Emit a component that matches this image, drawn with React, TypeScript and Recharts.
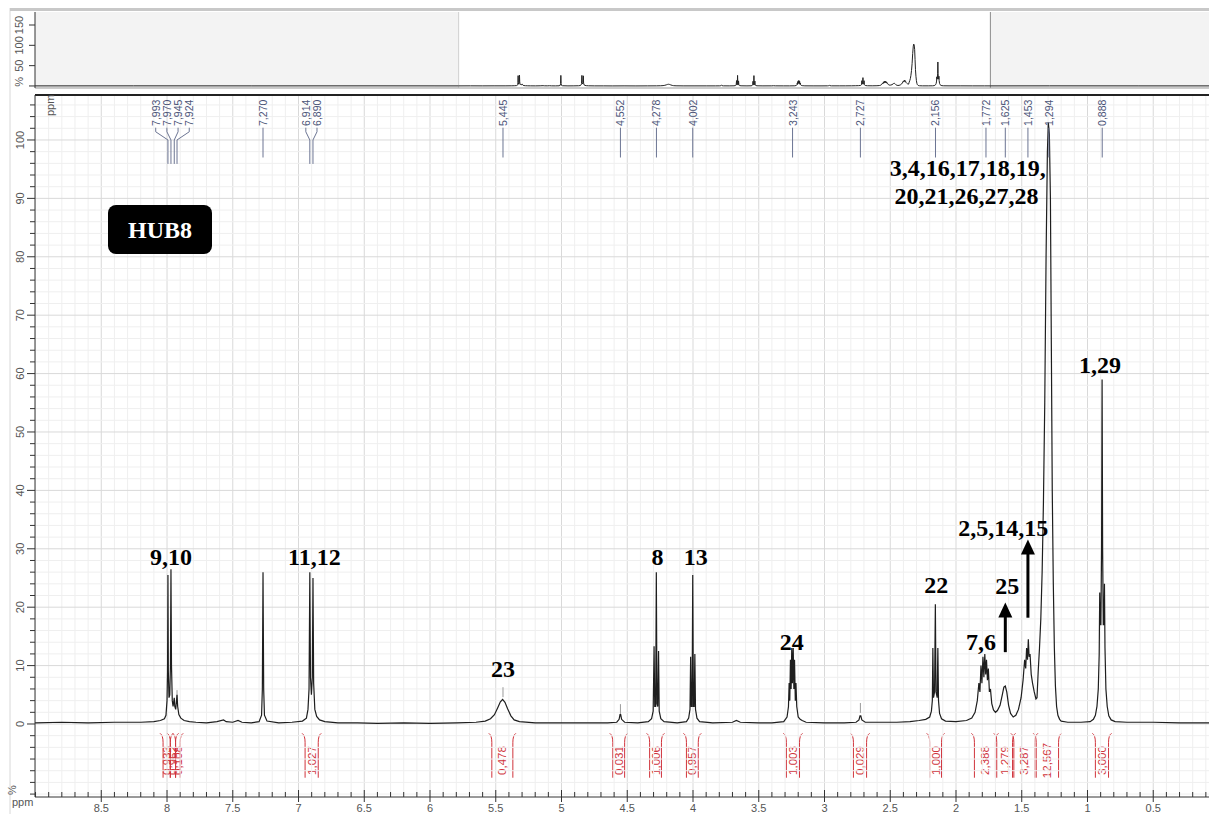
import React from 'react';
import { ComposedChart, Line, XAxis, YAxis, ReferenceLine, ReferenceDot, ReferenceArea } from 'recharts';

const W = 1209;
const H = 814;

// 1H trace as [ppm, % intensity], low field first
const LOW_FIELD_BASE: [number, number][] = [
  [16.2, 0.2], [14.5, 0.3], [12.5, 0.2], [10.5, 0.3], [9.4, 0.2], [9.0, 0.2], [8.8, 0.3], [8.6, 0.2],
  [8.4, 0.3], [8.2, 0.3], [8.1, 0.4], [8.05, 0.6], [8.02, 0.9],
];

const AROMATIC: [number, number][] = [
  [8.008, 1.5], [8.0, 4], [7.996, 9], [7.993, 25.5], [7.99, 9], [7.985, 4.5], [7.979, 5], [7.974, 10],
  [7.97, 26.5], [7.966, 10], [7.96, 4], [7.954, 3], [7.948, 4], [7.945, 4.5], [7.941, 3], [7.934, 2.5],
  [7.928, 4], [7.924, 5], [7.919, 3], [7.91, 1.6], [7.895, 1], [7.87, 0.6], [7.83, 0.4], [7.78, 0.3],
  [7.7, 0.2], [7.62, 0.4], [7.57, 0.7], [7.55, 0.4], [7.5, 0.3], [7.46, 0.6], [7.43, 0.3], [7.36, 0.2],
  [7.3, 0.4], [7.281, 1.5], [7.275, 6], [7.27, 26], [7.265, 6], [7.259, 1.5], [7.24, 0.5], [7.15, 0.2],
  [7.05, 0.3], [6.97, 0.5], [6.94, 1], [6.928, 2.5], [6.92, 6], [6.914, 26], [6.909, 8], [6.902, 5],
  [6.895, 8], [6.89, 25], [6.885, 7], [6.876, 2.5], [6.862, 1.3], [6.84, 0.7], [6.8, 0.4], [6.7, 0.2],
  [6.55, 0.2], [6.4, 0.1], [6.2, 0.2], [6.0, 0.1], [5.8, 0.2], [5.65, 0.3],
];

const MID_FIELD: [number, number][] = [
  [5.58, 0.5], [5.54, 0.9], [5.51, 1.6], [5.485, 2.8], [5.465, 3.8], [5.448, 4.2], [5.43, 3.7], [5.41, 2.6],
  [5.385, 1.4], [5.36, 0.7], [5.32, 0.4], [5.2, 0.2], [5.0, 0.2], [4.8, 0.2], [4.65, 0.2], [4.58, 0.3],
  [4.562, 0.8], [4.555, 1.6], [4.55, 1.6], [4.543, 0.8], [4.52, 0.3], [4.42, 0.2], [4.34, 0.4], [4.315, 0.9],
  [4.303, 2.2], [4.296, 13.3], [4.291, 3], [4.284, 3], [4.279, 26], [4.274, 3.5], [4.268, 3], [4.262, 12.5],
  [4.257, 2.2], [4.245, 0.9], [4.22, 0.4], [4.12, 0.2], [4.05, 0.4], [4.033, 1], [4.023, 2.5], [4.018, 11.5],
  [4.013, 3], [4.007, 3], [4.002, 25.5], [3.997, 3], [3.991, 3], [3.986, 12], [3.981, 2.5], [3.97, 1],
  [3.95, 0.4], [3.85, 0.2], [3.7, 0.3], [3.67, 0.6], [3.64, 0.3], [3.5, 0.2], [3.4, 0.2], [3.31, 0.4],
  [3.285, 1.2], [3.274, 3], [3.269, 7], [3.264, 4], [3.259, 11], [3.254, 6], [3.249, 13], [3.244, 7],
  [3.238, 13], [3.233, 6], [3.228, 11], [3.222, 4], [3.217, 7], [3.211, 3], [3.2, 1.2], [3.185, 0.8],
  [3.17, 0.6], [3.14, 0.3], [3.0, 0.2], [2.85, 0.2], [2.76, 0.3], [2.738, 0.7], [2.73, 1.4], [2.724, 1.4],
  [2.716, 0.7], [2.69, 0.3], [2.55, 0.3], [2.45, 0.3], [2.35, 0.4], [2.28, 0.6], [2.23, 0.8], [2.2, 1.2],
];

const ALIPHATIC: [number, number][] = [
  [2.187, 2.2], [2.18, 4], [2.176, 13], [2.171, 4.5], [2.163, 5.5], [2.157, 20.5], [2.152, 5.5], [2.143, 4.5],
  [2.138, 13], [2.133, 4], [2.125, 1.8], [2.11, 0.9], [2.08, 0.5], [2.0, 0.4], [1.92, 0.6], [1.88, 1],
  [1.855, 2], [1.838, 4], [1.826, 7], [1.818, 5.5], [1.81, 10], [1.803, 7], [1.795, 11.5], [1.788, 8],
  [1.781, 12], [1.774, 8.5], [1.768, 11], [1.761, 7.5], [1.754, 9.5], [1.746, 5.5], [1.738, 6], [1.728, 3.5],
  [1.715, 2.4], [1.7, 2], [1.685, 2.3], [1.665, 3.2], [1.648, 5], [1.636, 6.3], [1.625, 6.5], [1.614, 5.5],
  [1.6, 3.2], [1.585, 1.8], [1.565, 1.2], [1.545, 1.5], [1.525, 2.5], [1.505, 4.5], [1.49, 7.5], [1.478, 11],
  [1.47, 9.5], [1.463, 13], [1.456, 11], [1.45, 14.5], [1.444, 11.5], [1.437, 12], [1.428, 8.5], [1.418, 7],
  [1.405, 5.5], [1.392, 4.3], [1.384, 4.5], [1.375, 9], [1.365, 13], [1.355, 18], [1.345, 26], [1.335, 38],
  [1.325, 55], [1.315, 80], [1.305, 98], [1.298, 103], [1.29, 101], [1.282, 90], [1.275, 65], [1.268, 40],
  [1.26, 24], [1.252, 13], [1.244, 6.5], [1.235, 3], [1.225, 1.5], [1.212, 0.8], [1.2, 0.5], [1.15, 0.3],
  [1.05, 0.3], [0.98, 0.4], [0.955, 0.8], [0.94, 1.5], [0.928, 3], [0.918, 6], [0.911, 12], [0.907, 22.5],
  [0.903, 17], [0.898, 17], [0.893, 30], [0.889, 59], [0.885, 30], [0.88, 17], [0.875, 17], [0.871, 24],
  [0.867, 13], [0.86, 6], [0.85, 3], [0.838, 1.4], [0.82, 0.7], [0.79, 0.4], [0.7, 0.3], [0.5, 0.3],
  [0.3, 0.2], [0.1, 0.2], [0.0, 0.2], [-1.0, 0.3], [-2.5, 0.2], [-3.7, 0.2],
];

const SPECTRUM = [...LOW_FIELD_BASE, ...AROMATIC, ...MID_FIELD, ...ALIPHATIC].map(([ppm, y]) => ({ ppm, y }));

// peak picking list, grouped as the leader lines fan out
const PICK_GROUPS: number[][] = [
  [7.993, 7.970, 7.945, 7.924], [7.270], [6.914, 6.890], [5.445], [4.552], [4.278], [4.002],
  [3.243], [2.727], [2.156], [1.772], [1.625], [1.453], [1.294], [0.888],
];

// integration regions (ppm from / to) and their values
const INT_FROM = [8.03, 7.975, 7.935, 6.95, 5.53, 4.61, 4.33, 4.05, 3.29, 2.78, 2.2, 1.86, 1.69, 1.56, 1.39, 0.94];
const INT_TO = [7.975, 7.935, 7.9, 6.85, 5.37, 4.52, 4.24, 3.96, 3.19, 2.68, 2.11, 1.7, 1.57, 1.4, 1.22, 0.84];
const INT_VALUE = ['0,933', '0,962', '0,108', '1,027', '0,478', '0,031', '1,006', '0,957', '1,003', '0,029',
  '1,000', '2,388', '1,279', '3,287', '12,567', '3,000'];

// proton assignments written on the spectrum
const ASSIGN_TEXT = ['9,10', '11,12', '23', '8', '13', '24', '22', '7,6', '25', '2,5,14,15',
  '3,4,16,17,18,19,', '20,21,26,27,28', '1,29'];
const ASSIGN_PPM = [7.97, 6.88, 5.445, 4.27, 3.98, 3.25, 2.15, 1.81, 1.61, 1.64, 1.91, 1.92, 0.905];
const ASSIGN_AT = [27.2, 27.2, 8.0, 27.2, 27.2, 12.7, 22.4, 12.7, 22.3, 32.2, 93.8, 89.0, 60.1];

// arrows: ppm, shaft bottom, arrow tip
const ARROW_PPM = [1.625, 1.453];
const ARROW_FROM = [12.3, 18.2];
const ARROW_TIP = [20.8, 31.6];

const PEAK_MARK_PPM = [7.924, 5.445, 4.552, 2.727];
const PEAK_MARK_FROM = [4.1, 4.6, 1.4, 1.9];
const PEAK_MARK_TO = [5.8, 6.3, 3.4, 3.6];

const X_MAJOR = [8.5, 8, 7.5, 7, 6.5, 6, 5.5, 5, 4.5, 4, 3.5, 3, 2.5, 2, 1.5, 1, 0.5];
const Y_MAJOR = [0, 10, 20, 30, 40, 50, 60, 70, 80, 90, 100];
const INSET_TICKS = [0, 50, 100, 150];

const X_MIN = 0.076;
const X_MAX = 9.004;
const Y_MIN = -12.5;
const Y_MAX = 107.7;

const X_MINOR: number[] = [];
for (let i = 1; i <= 90; i++) X_MINOR.push(i / 10);
const Y_MINOR: number[] = [];
for (let v = -12; v <= 106; v += 2) Y_MINOR.push(v);

const isMajorX = (v: number) => X_MAJOR.some(m => Math.abs(m - v) < 1e-6);
const isMajorY = (v: number) => Y_MAJOR.includes(v);

const SANS = 'Liberation Sans, Arial, sans-serif';
const SERIF = 'Liberation Serif, Times New Roman, serif';
const RED = '#d0343c';
const PICK_TEXT = '#4b5478';
const PICK_LINE = '#6c7593';
const SPREAD = 0.085;

function PpmTick({ x, y, payload }: any) {
  const v = payload.value;
  const major = isMajorX(v);
  return (
    <g>
      <line x1={x} x2={x} y1={y - (major ? 7 : 5)} y2={y + (major ? 5 : 0)} stroke="#333" />
      {major && (
        <text x={x} y={y + 15} textAnchor="middle" fontSize={11} fill="#555" fontFamily={SANS}>{String(v)}</text>
      )}
    </g>
  );
}

function PctTick({ x, y, payload }: any) {
  const v = payload.value;
  const major = isMajorY(v);
  return (
    <g>
      <line x1={x - (major ? 8 : 5)} x2={x} y1={y} y2={y} stroke="#333" />
      {major && (
        <text x={x - 15} y={y} transform={`rotate(-90 ${x - 15} ${y})`} textAnchor="middle"
          dominantBaseline="central" fontSize={11} fill="#555" fontFamily={SANS}>{String(v)}</text>
      )}
    </g>
  );
}

function InsetTick({ x, y, payload }: any) {
  const v = payload.value;
  const ty = v === 0 ? y - 4 : y;
  return (
    <g>
      <line x1={x - 6} x2={x} y1={y} y2={y} stroke="#333" />
      <text x={x - 16} y={ty} transform={`rotate(-90 ${x - 16} ${ty})`}
        textAnchor="middle" dominantBaseline="central" fontSize={11} fill="#555" fontFamily={SANS}>
        {v === 0 ? '%' : String(v)}
      </text>
    </g>
  );
}

function IntegralMark({ x, y, width, height, label }: any) {
  const l = x;
  const r = x + width;
  const top = y;
  const bot = y + height;
  const cx = x + width / 2;
  const cy = (top + bot) / 2 + 5;
  return (
    <g>
      <path d={`M${l - 3},${top} Q${l},${top + 2} ${l},${top + 9} L${l},${bot}`} stroke={RED} fill="none" />
      <path d={`M${r + 3},${top} Q${r},${top + 2} ${r},${top + 9} L${r},${bot}`} stroke={RED} fill="none" />
      <text x={cx} y={cy} transform={`rotate(-90 ${cx} ${cy})`} textAnchor="middle" dominantBaseline="central"
        fontSize={11.5} fill={RED} fontFamily={SANS}>{label}</text>
    </g>
  );
}

function pickLayers() {
  const out: React.ReactNode[] = [];
  PICK_GROUPS.forEach((group, gi) => {
    const n = group.length;
    const center = (group[0] + group[n - 1]) / 2;
    group.forEach((p, i) => {
      const lp = n === 1 ? p : center + ((n - 1) / 2 - i) * SPREAD;
      const txt = p.toFixed(3).replace('.', ',');
      out.push(
        <ReferenceDot key={`pt${gi}-${i}`} x={lp} y={102.4} r={0}
          shape={(s: any) => (
            <text x={s.cx} y={s.cy} transform={`rotate(-90 ${s.cx} ${s.cy})`} dominantBaseline="central"
              fontSize={10.5} fill={PICK_TEXT} fontFamily={SANS}>{txt}</text>
          )} />
      );
      if (n === 1) {
        out.push(<ReferenceLine key={`pl${gi}-${i}`} segment={[{ x: p, y: 102.1 }, { x: p, y: 97.0 }]} stroke={PICK_LINE} />);
      } else {
        out.push(<ReferenceLine key={`pa${gi}-${i}`} segment={[{ x: lp, y: 102.1 }, { x: lp, y: 101.4 }]} stroke={PICK_LINE} />);
        out.push(<ReferenceLine key={`pb${gi}-${i}`} segment={[{ x: lp, y: 101.4 }, { x: p, y: 100.0 }]} stroke={PICK_LINE} />);
        out.push(<ReferenceLine key={`pc${gi}-${i}`} segment={[{ x: p, y: 100.0 }, { x: p, y: 95.9 }]} stroke={PICK_LINE} />);
      }
    });
  });
  return out;
}

export default function App() {
  return (
    <div style={{ position: 'absolute', left: 0, top: 0, width: W, height: H, background: '#fff', overflow: 'hidden' }}>
      <div style={{ position: 'absolute', left: 0, top: 0 }}>
        <ComposedChart width={W} height={H} data={SPECTRUM} margin={{ top: 95, right: 0, bottom: 0, left: 0 }}>
          {X_MINOR.map(v => (
            <ReferenceLine key={`gx${v}`} x={v} stroke={isMajorX(v) ? '#d9d9d9' : '#efefef'} />
          ))}
          {Y_MINOR.map(v => (
            <ReferenceLine key={`gy${v}`} y={v} stroke={isMajorY(v) ? '#d9d9d9' : '#efefef'} />
          ))}
          <XAxis type="number" dataKey="ppm" domain={[X_MIN, X_MAX]} reversed allowDataOverflow
            ticks={X_MINOR} interval={0} tick={(p: any) => <PpmTick {...p} />} tickLine={false}
            tickSize={0} tickMargin={0} height={17} axisLine={{ stroke: '#333' }} />
          <YAxis type="number" domain={[Y_MIN, Y_MAX]} allowDataOverflow ticks={Y_MINOR} interval={0}
            tick={(p: any) => <PctTick {...p} />} tickLine={false} tickSize={0} tickMargin={0} width={35}
            axisLine={{ stroke: '#333' }} />
          <ReferenceLine y={Y_MAX} stroke="#222" strokeWidth={2} />
          {PEAK_MARK_PPM.map((p, i) => (
            <ReferenceLine key={`pm${i}`} segment={[{ x: p, y: PEAK_MARK_FROM[i] }, { x: p, y: PEAK_MARK_TO[i] }]} stroke="#9a9a9a" />
          ))}
          <Line type="linear" dataKey="y" stroke="#1e1e1e" strokeWidth={1.2} dot={false} activeDot={false}
            isAnimationActive={false} />
          {pickLayers()}
          {INT_FROM.map((f, i) => (
            <ReferenceArea key={`in${i}`} x1={f} x2={INT_TO[i]} y1={-1.6} y2={-9.2} ifOverflow="visible"
              shape={(s: any) => <IntegralMark {...s} label={INT_VALUE[i]} />} />
          ))}
          {ARROW_PPM.map((p, i) => (
            <ReferenceLine key={`as${i}`} segment={[{ x: p, y: ARROW_FROM[i] }, { x: p, y: ARROW_TIP[i] - 2 }]}
              stroke="#000" strokeWidth={3} />
          ))}
          {ARROW_PPM.map((p, i) => (
            <ReferenceDot key={`ah${i}`} x={p} y={ARROW_TIP[i]} r={0}
              shape={(s: any) => (
                <polygon points={`${s.cx},${s.cy} ${s.cx - 7},${s.cy + 15} ${s.cx + 7},${s.cy + 15}`} fill="#000" />
              )} />
          ))}
          {ASSIGN_TEXT.map((t, i) => (
            <ReferenceDot key={`lb${i}`} x={ASSIGN_PPM[i]} y={ASSIGN_AT[i]} r={0}
              shape={(s: any) => (
                <text x={s.cx} y={s.cy} textAnchor="middle" fontSize={24} fontWeight="bold" fill="#000"
                  fontFamily={SERIF}>{t}</text>
              )} />
          ))}
        </ComposedChart>
      </div>
      <div style={{ position: 'absolute', left: 0, top: 0 }}>
        <ComposedChart width={W} height={100} data={SPECTRUM} margin={{ top: 12, right: 0, bottom: 12, left: 0 }}>
          <XAxis type="number" dataKey="ppm" domain={[-3.7, 16.17]} reversed hide allowDataOverflow />
          <YAxis type="number" domain={[-5, 182]} allowDataOverflow ticks={INSET_TICKS} interval={0}
            tick={(p: any) => <InsetTick {...p} />} tickLine={false} tickSize={0} tickMargin={0} width={35}
            axisLine={{ stroke: '#333' }} />
          <ReferenceArea x1={16.17} x2={9.0} y1={-5} y2={182} fill="#f3f3f3" fillOpacity={1} stroke="none" />
          <ReferenceArea x1={0} x2={-3.7} y1={-5} y2={182} fill="#f3f3f3" fillOpacity={1} stroke="none" />
          <ReferenceLine x={0} stroke="#8a8a8a" />
          <ReferenceLine x={9.0} stroke="#d0d0d0" />
          <ReferenceLine y={-5} stroke="#9a9a9a" />
          <Line type="linear" dataKey="y" stroke="#222" strokeWidth={1} dot={false} activeDot={false}
            isAnimationActive={false} />
        </ComposedChart>
      </div>
      <svg width={W} height={H} style={{ position: 'absolute', left: 0, top: 0, pointerEvents: 'none' }}>
        <line x1={10} x2={10} y1={8} y2={H} stroke="#d8d8d8" />
        <rect x={10} y={8} width={W - 10} height={3} fill="#c8c8c8" />
        <text x={50} y={116} transform="rotate(-90 50 116)" dominantBaseline="central" fontSize={11} fill="#555"
          fontFamily={SANS}>ppm</text>
        <text x={12} y={806} fontSize={11} fill="#555" fontFamily={SANS}>ppm</text>
        <text x={12} y={790} transform="rotate(-90 12 790)" textAnchor="middle" dominantBaseline="central"
          fontSize={11} fill="#555" fontFamily={SANS}>%</text>
        <rect x={108} y={205} width={104} height={49} rx={8} fill="#000" />
        <text x={160} y={238} textAnchor="middle" fontSize={24} fontWeight="bold" fill="#fff" fontFamily={SERIF}>HUB8</text>
      </svg>
    </div>
  );
}
